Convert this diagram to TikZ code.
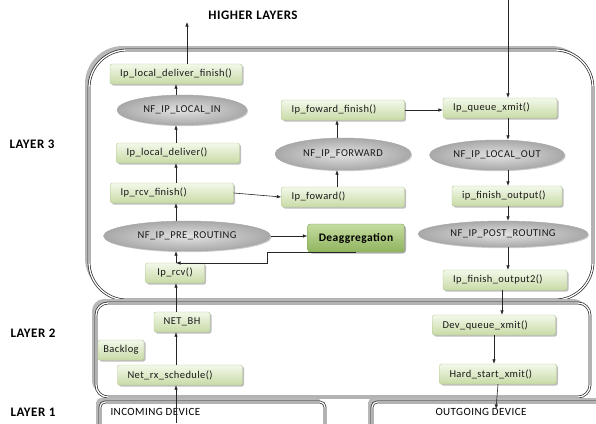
\documentclass[tikz,border=0pt]{standalone}
\usepackage{fontspec}
\setmainfont{Carlito}[LetterSpace=4]
\usetikzlibrary{shadows,arrows.meta,shapes.geometric}
\definecolor{gtop}{HTML}{F3F8EA}
\definecolor{gbot}{HTML}{C8DBA6}
\definecolor{gdraw}{HTML}{B3C990}
\definecolor{dtop}{HTML}{C5DCA0}
\definecolor{dbot}{HTML}{8FB45E}
\definecolor{ddraw}{HTML}{7C9F4E}
\definecolor{shgray}{HTML}{B8B8B8}
\begin{document}
\begin{tikzpicture}[x=1pt,y=-1pt,
  fbox/.style={draw=gdraw, rounded corners=2pt, top color=gtop, bottom color=gbot,
    minimum height=20pt, inner xsep=10pt, inner ysep=2pt, align=left, text=black!90,
    font=\fontsize{10.5}{12}\selectfont,
    drop shadow={shadow xshift=1.5pt, shadow yshift=-1.5pt, opacity=0.25, fill=black}},
  cbox/.style={fbox, align=center, inner xsep=2pt},
  ell/.style={ellipse, draw=gray!70, inner color=gray!22, outer color=gray!68, inner sep=0pt,
    font=\fontsize{10.5}{12}\selectfont, text=black!90,
    drop shadow={shadow xshift=1.2pt, shadow yshift=-1.2pt, opacity=0.2, fill=black}},
  dbox/.style={draw=ddraw, rounded corners=3pt, top color=dtop, bottom color=dbot,
    minimum width=97pt, minimum height=28pt, font=\bfseries\fontsize{11.5}{13}\selectfont,
    drop shadow={shadow xshift=1.5pt, shadow yshift=-1.5pt, opacity=0.3, fill=black}},
  lay/.style={draw=black!85, double=white, double distance=1.3pt, line width=0.7pt, fill=white},
  shd/.style={fill=shgray},
  arr/.style={-{Latex[length=4.5pt,width=3.5pt]}, line width=0.6pt, black!85},
  lbl/.style={font=\bfseries\fontsize{13}{15}\selectfont},
  dev/.style={font=\fontsize{11}{13}\selectfont}
]
\clip (0,0) rectangle (596,423);
\fill[white] (0,0) rectangle (596,423);

% layer frames
\fill[shd, rounded corners=38pt] (85,46) rectangle (589,296);
\draw[lay, rounded corners=38pt] (89,50) rectangle (593,300);
\fill[shd, rounded corners=12pt] (92,299) rectangle (586,393);
\draw[lay, rounded corners=12pt] (96,303) rectangle (590,397);
\fill[shd, rounded corners=5pt] (96,398) rectangle (321,440);
\draw[lay, rounded corners=5pt] (100,402) rectangle (325,440);
\fill[shd, rounded corners=5pt] (368,398) rectangle (600,440);
\draw[lay, rounded corners=5pt] (372,402) rectangle (604,440);

% labels
\node[lbl] (hl) at (253,15) {HIGHER LAYERS};
\node[lbl] (l3) at (32,144) {LAYER 3};
\node[lbl] (l2) at (33,333) {LAYER 2};
\node[lbl] (l1) at (33,412) {LAYER 1};
\node[dev, anchor=west] (inc) at (107,412) {INCOMING DEVICE};
\node[dev] (outg) at (481,412) {OUTGOING DEVICE};

% layer 3 nodes
\node[cbox, minimum width=132pt] (ldf) at (176,74) {Ip\_local\_deliver\_finish()};
\node[ell, minimum width=130pt, minimum height=30pt] (lin) at (182,110) {NF\_IP\_LOCAL\_IN};
\node[fbox, text width=103pt] (ld) at (178,153) {Ip\_local\_deliver()};
\node[fbox, text width=103pt] (rcvf) at (172,193) {Ip\_rcv\_finish()};
\node[ell, minimum width=167pt, minimum height=30pt] (pre) at (187,236) {NF\_IP\_PRE\_ROUTING};
\node[dbox] (deagg) at (356,238) {Deaggregation};
\node[cbox, minimum width=59pt] (iprcv) at (175,273) {Ip\_rcv()};
\node[fbox, text width=103pt] (fwd) at (343,197) {Ip\_foward()};
\node[ell, minimum width=136pt, minimum height=32pt] (fwdnf) at (343,154) {NF\_IP\_FORWARD};
\node[fbox, text width=103pt] (fwdf) at (343,110) {Ip\_foward\_finish()};
\node[fbox, text width=94pt] (qx) at (500,108) {Ip\_queue\_xmit()};
\node[ell, minimum width=135pt, minimum height=30pt] (lout) at (497,155) {NF\_IP\_LOCAL\_OUT};
\node[fbox, text width=90pt] (fo) at (507,196) {ip\_finish\_output()};
\node[ell, minimum width=170pt, minimum height=26pt] (post) at (503,234) {NF\_IP\_POST\_ROUTING};
\node[fbox, text width=104pt] (fo2) at (505,280) {Ip\_finish\_output2()};

% layer 2 nodes
\node[cbox, minimum width=56pt] (netbh) at (182,322) {NET\_BH};
\node[cbox, minimum width=46pt] (backlog) at (121,350) {Backlog};
\node[fbox, text width=105pt] (nrx) at (180,375) {Net\_rx\_schedule()};
\node[fbox, text width=103pt] (dqx) at (494,325) {Dev\_queue\_xmit()};
\node[fbox, text width=97pt] (hsx) at (498,374) {Hard\_start\_xmit()};

% helper coordinates
\coordinate (colL) at (176,0);
\coordinate (colM) at (337,0);
\coordinate (colR) at (508,0);
\coordinate (colR2) at (502,0);
\coordinate (top) at (187,22);
\coordinate (ext) at (508,-2);
\coordinate (incs) at (176,423);
\coordinate (oute) at (496,409);
\coordinate (dret) at (267,263);

% connectors
\draw[arr] (ldf.north -| top) -- (top);
\draw[arr] (lin.north -| colL) -- (ldf.south -| colL);
\draw[arr] (ld.north -| colL) -- (lin.south -| colL);
\draw[arr] (rcvf.north -| colL) -- (ld.south -| colL);
\draw[arr] (pre.north -| colL) -- (rcvf.south -| colL);
\draw[arr] (iprcv.north -| colL) -- (pre.south -| colL);
\draw[arr] (rcvf.east) -- (fwd.west);
\draw[arr] (fwd.north -| colM) -- (fwdnf.south -| colM);
\draw[arr] (fwdnf.north -| colM) -- (fwdf.south -| colM);
\draw[arr] (fwdf.east) -- (qx.west |- fwdf.east);
\draw[arr] (pre.east) -- (deagg.west |- pre.east);
\draw[arr] (deagg.south) -- (deagg.south -| dret) -- (dret) -- (dret -| colL);
\draw[arr] (ext) -- (qx.north -| colR);
\draw[arr] (qx.south -| colR) -- (lout.north -| colR);
\draw[arr] (lout.south -| colR) -- (fo.north -| colR);
\draw[arr] (fo.south -| colR) -- (post.north -| colR);
\draw[arr] (post.south -| colR) -- (fo2.north -| colR);
\draw[arr] (fo2.south -| colR2) -- (dqx.north -| colR2);
\draw[arr] (dqx.south) -- (hsx.north -| dqx.south);
\draw[arr] (hsx.south) -- (oute);
\draw[arr] (incs) -- (nrx.south -| colL);
\draw[arr] (nrx.north -| colL) -- (netbh.south -| colL);
\draw[arr] (netbh.north -| colL) -- (iprcv.south -| colL);
\end{tikzpicture}
\end{document}
